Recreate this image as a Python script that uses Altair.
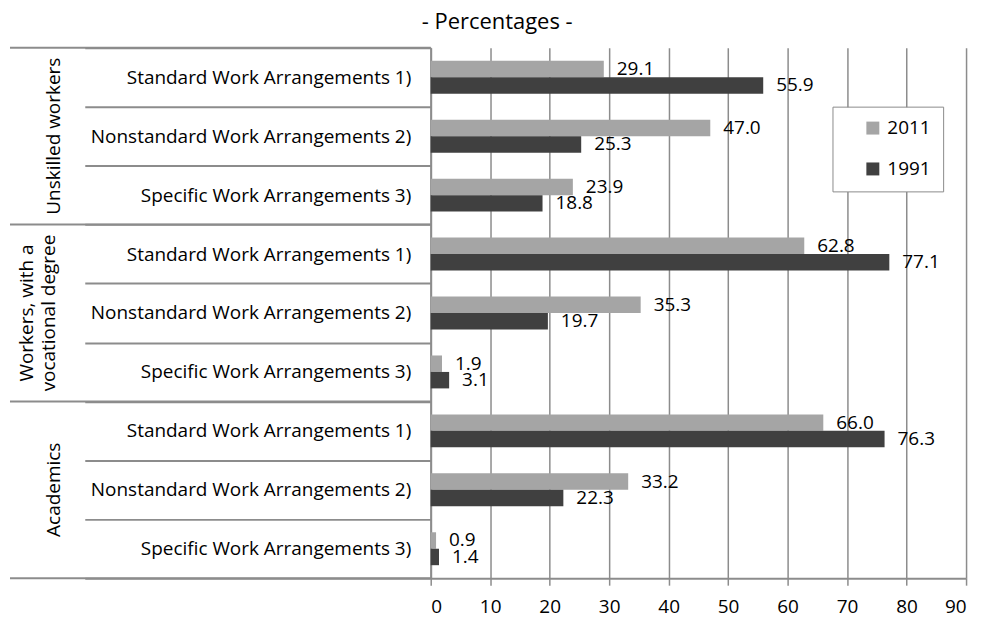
import altair as alt
import pandas as pd

# ---- data ----
groups = ["Unskilled workers", "Workers, with a\nvocational degree", "Academics"]
arrangements = [
    "Standard Work Arrangements 1)",
    "Nonstandard Work Arrangements 2)",
    "Specific Work Arrangements 3)",
]
years = ["2011", "1991"]
values_2011 = [29.1, 47.0, 23.9, 62.8, 35.3, 1.9, 66.0, 33.2, 0.9]
values_1991 = [55.9, 25.3, 18.8, 77.1, 19.7, 3.1, 76.3, 22.3, 1.4]
x_ticks = [0, 10, 20, 30, 40, 50, 60, 70, 80, 90]
colors = ["#a5a5a5", "#404040"]
title_text = "- Percentages -"

FONT = "Open Sans"
GRAY = "#8c8c8c"
FS = 19
NBSP = "\u00a0"

rows = []
for i in range(9):
    for yr, vals in zip(years, [values_2011, values_1991]):
        rows.append({"row": i, "group": groups[i // 3], "arr": arrangements[i % 3],
                     "year": yr, "value": vals[i]})
df = pd.DataFrame(rows)

group_df = pd.DataFrame({"row": [1, 4, 7], "label": groups})
bound_start = pd.DataFrame({"row": [0, 3, 6]})
bound_end = pd.DataFrame({"row": [8]})
title_df = pd.DataFrame({"t": [title_text]})

label_expr = "[" + ",".join("'" + a + "'" for a in arrangements) + "][datum.value % 3]"


def y_enc(band=None):
    kw = {}
    if band is not None:
        kw["bandPosition"] = band
    return alt.Y(
        "row:O",
        scale=alt.Scale(paddingInner=0, paddingOuter=0),
        axis=alt.Axis(
            title=None, labelExpr=label_expr, tickBand="extent", tickSize=347,
            tickWidth=2, tickColor=GRAY, domainColor=GRAY, domainWidth=2,
            labelPadding=-327, labelFontSize=FS, labelFont=FONT, labelColor="#000",
            labelLimit=400, grid=False,
        ),
        **kw,
    )


x_enc = alt.X(
    "value:Q",
    scale=alt.Scale(domain=[0, 90], nice=False),
    axis=alt.Axis(
        values=x_ticks, title=None, grid=True, gridColor=GRAY, gridWidth=1.5,
        tickSize=7, tickColor=GRAY, tickWidth=1.5, domainColor=GRAY, domainWidth=2,
        labelFontSize=FS, labelFont=FONT, labelColor="#000", labelPadding=12,
    ),
)

yoff_enc = alt.YOffset("year:N", scale=alt.Scale(domain=years, paddingOuter=0.79, paddingInner=0))

bars = alt.Chart(df).mark_bar().encode(
    x=x_enc,
    y=y_enc(),
    yOffset=yoff_enc,
    color=alt.Color(
        "year:N",
        scale=alt.Scale(domain=years, range=colors),
        legend=alt.Legend(
            title=None, orient="none", legendX=403, legendY=59, direction="vertical",
            fillColor="white", strokeColor=GRAY, padding=12, symbolType="square",
            symbolSize=169, symbolStrokeWidth=0, symbolOffset=19, symbolOpacity=1,
            labelFontSize=FS, labelFont=FONT, labelColor="#000", labelOffset=5,
            rowPadding=21, labelExpr="datum.label + '" + NBSP * 4 + "'",
        ),
    ),
)

value_labels = alt.Chart(df).mark_text(
    align="left", baseline="middle", dx=13, fontSize=FS, font=FONT, color="#000"
).encode(
    x=x_enc,
    y=y_enc(),
    yOffset=yoff_enc,
    text=alt.Text("value:Q", format=".1f"),
)

rule_top = alt.Chart(bound_start).mark_rule(color=GRAY, strokeWidth=2).encode(
    y=y_enc(0), x=alt.value(-422), x2=alt.value(0)
)
rule_bot = alt.Chart(bound_end).mark_rule(color=GRAY, strokeWidth=2).encode(
    y=y_enc(1), x=alt.value(-422), x2=alt.value(0)
)

grp_single = alt.Chart(group_df).transform_filter("datum.row != 4").mark_text(
    angle=270, align="center", baseline="middle", fontSize=FS, font=FONT, color="#000"
).encode(y=y_enc(), x=alt.value(-378), text="label:N")

grp_multi = alt.Chart(group_df).transform_filter("datum.row == 4").mark_text(
    angle=270, align="center", baseline="middle", fontSize=FS, font=FONT, color="#000",
    lineBreak="\n", lineHeight=22,
).encode(y=y_enc(), x=alt.value(-405), text="label:N")

title_mark = alt.Chart(title_df).mark_text(
    align="left", baseline="alphabetic", fontSize=22, font=FONT, color="#000"
).encode(x=alt.value(-9), y=alt.value(-19), text="t:N")

chart = alt.layer(
    rule_top, rule_bot, bars, value_labels, grp_single, grp_multi, title_mark
).properties(
    width=537,
    height=532,
    autosize=alt.AutoSizeParams(type="none"),
    padding={"left": 424, "top": 39, "right": 20, "bottom": 45},
).configure_view(stroke=None)

chart.save("out.html", embed_options={"renderer": "svg", "actions": False})
